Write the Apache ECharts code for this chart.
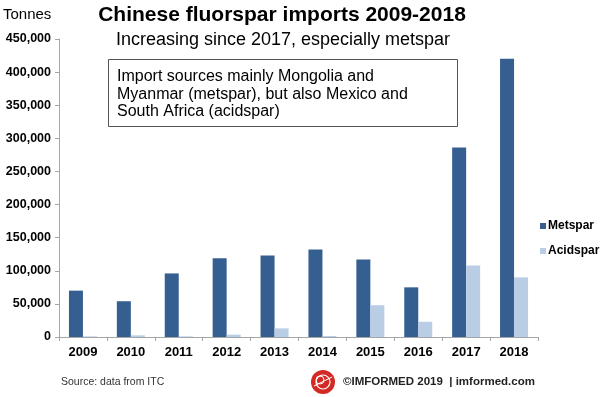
<!DOCTYPE html>
<html>
<head>
<meta charset="utf-8">
<script src="https://cdn.jsdelivr.net/npm/echarts@6/dist/echarts.min.js"></script>
<style>
  html, body { margin: 0; padding: 0; background: #fff; }
  #chart { width: 602px; height: 397px; }
</style>
</head>
<body>
<div id="chart"></div>
<script>
// data
const years = ['2009', '2010', '2011', '2012', '2013', '2014', '2015', '2016', '2017', '2018'];
const metspar = [70000, 54000, 96000, 119000, 123000, 132000, 117000, 75000, 286000, 420000];
const acidspar = [1000, 2500, 1000, 3500, 13000, 1500, 48000, 23000, 108000, 90000];
const seriesNames = ['Metspar', 'Acidspar'];

const font = 'Liberation Sans, Arial, sans-serif';

let chart = echarts.init(document.getElementById('chart'));
let option = {
    animation: false,
    textStyle: { fontFamily: font },
    grid: {
        left: 59,
        right: 64,
        top: 39,
        bottom: 60,
        show: false
    },
    title: [{
        text: 'Chinese fluorspar imports 2009-2018',
        left: 282,
        top: 5,
        padding: 0,
        textAlign: 'center',
        textStyle: { fontSize: 21, fontWeight: 'bold', color: '#000', fontFamily: font }
    }, {
        text: 'Increasing since 2017, especially metspar',
        left: 283,
        top: 31,
        padding: 0,
        textAlign: 'center',
        textStyle: { fontSize: 18, fontWeight: 'normal', color: '#000', fontFamily: font }
    }, {
        text: 'Tonnes',
        left: 3,
        top: 7,
        padding: 0,
        textStyle: { fontSize: 15, fontWeight: 'normal', color: '#000', fontFamily: font }
    }, {
        text: 'Source: data from ITC',
        left: 61,
        top: 377,
        padding: 0,
        textStyle: { fontSize: 10.5, fontWeight: 'normal', color: '#333', fontFamily: font }
    }],
    legend: {
        orient: 'vertical',
        left: 535,
        top: 215,
        itemWidth: 6,
        itemHeight: 6,
        itemGap: 13,
        icon: 'rect',
        data: seriesNames,
        textStyle: { fontSize: 12, fontWeight: 'bold', color: '#000', padding: [0, 0, 0, -3] }
    },
    xAxis: {
        type: 'category',
        data: years,
        axisLine: { lineStyle: { color: '#a6a6a6' } },
        axisTick: { show: true, length: 4, lineStyle: { color: '#a6a6a6' } },
        axisLabel: { fontSize: 13, fontWeight: 'bold', color: '#000', margin: 9 }
    },
    yAxis: {
        type: 'value',
        min: 0,
        max: 450000,
        interval: 50000,
        splitLine: { show: false },
        axisLine: { show: true, lineStyle: { color: '#a6a6a6' } },
        axisTick: { show: true, length: 4, lineStyle: { color: '#a6a6a6' } },
        axisLabel: {
            fontSize: 12.5,
            fontWeight: 'bold',
            color: '#000',
            margin: 8,
            formatter: v => v.toLocaleString('en-US')
        }
    },
    series: [{
        name: seriesNames[0],
        type: 'bar',
        data: metspar,
        barWidth: 14,
        barGap: '0%',
        itemStyle: { color: '#365f91' }
    }, {
        name: seriesNames[1],
        type: 'bar',
        data: acidspar,
        barWidth: 14,
        itemStyle: { color: '#b9cde5' }
    }],
    graphic: [{
        type: 'rect',
        shape: { x: 108.5, y: 59.5, width: 349, height: 67 },
        style: { fill: '#fff', stroke: '#555', lineWidth: 1 },
        z: 10
    }, {
        type: 'text',
        left: 117,
        top: 68,
        style: {
            text: 'Import sources mainly Mongolia and\nMyanmar (metspar), but also Mexico and\nSouth Africa (acidspar)',
            font: '16px ' + font,
            lineHeight: 17.5,
            fill: '#000'
        },
        z: 11
    }, {
        // logo
        type: 'group',
        left: 311,
        top: 370,
        children: [{
            type: 'circle',
            shape: { cx: 12, cy: 12, r: 12 },
            style: { fill: '#d42a25' }
        }, {
            type: 'circle',
            shape: { cx: 12, cy: 12, r: 7 },
            style: { fill: 'none', stroke: '#fff', lineWidth: 1.2 }
        }, {
            type: 'circle',
            shape: { cx: 9, cy: 10, r: 4 },
            style: { fill: 'none', stroke: '#fff', lineWidth: 1 }
        }, {
            type: 'line',
            shape: { x1: 3, y1: 16, x2: 21, y2: 7 },
            style: { stroke: '#fff', lineWidth: 1 }
        }]
    }, {
        type: 'text',
        left: 343,
        top: 376,
        style: {
            text: '\u00A9IMFORMED 2019  | imformed.com',
            font: 'bold 11.5px ' + font,
            fill: '#222'
        }
    }]
};
chart.setOption(option);
</script>
</body>
</html>
